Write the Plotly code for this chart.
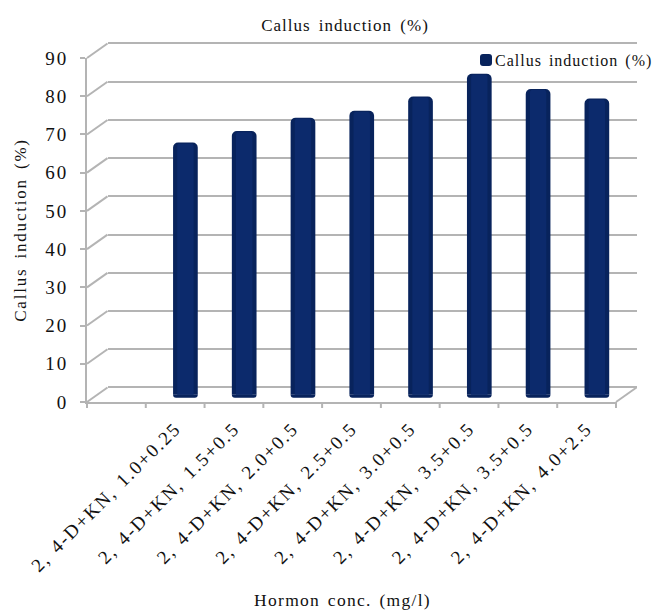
import plotly.graph_objects as go

labels = ["2, 4-D+KN, 1.0+0.25", "2, 4-D+KN, 1.5+0.5", "2, 4-D+KN, 2.0+0.5", "2, 4-D+KN, 2.5+0.5",
          "2, 4-D+KN, 3.0+0.5", "2, 4-D+KN, 3.5+0.5", "2, 4-D+KN, 3.5+0.5", "2, 4-D+KN, 4.0+2.5"]
values = [66, 69, 72.5, 74.3, 78, 84, 80, 77.5]
slots = [1.5, 2.5, 3.5, 4.5, 5.5, 6.5, 7.5, 8.5]
y_ticks = [0, 10, 20, 30, 40, 50, 60, 70, 80, 90]
x_edges = [0, 1, 2, 3, 4, 5, 6, 7, 8, 9]
series = "Callus induction (%)"

W, H = 655, 610
L, R, T, B = 87, 616, 58, 402      # front frame of the chart, px
DX, DY = 20.5, 14.5                # depth of the pseudo-3D box, px
UNIT = (B - T) / 90                # px per percent
PAD = 2                            # extra percent above and below 0-90 on the inner layers
GRID = "#b4b4b4"
TXT = "#111111"
FONT = "Liberation Serif"


def xd(a, b):
    return [a / W, b / W]


def yd(a, b):
    return [1 - b / H, 1 - a / H]


fig = go.Figure()

# back wall (gridlines), front frame (axes), bars: one subplot each, shifted in depth
fig.add_trace(go.Scatter(x=slots, y=values, mode="none", xaxis="x", yaxis="y", showlegend=False, hoverinfo="skip"))
fig.add_trace(go.Scatter(x=slots, y=values, mode="none", xaxis="x2", yaxis="y2", showlegend=False, hoverinfo="skip"))

fig.add_trace(go.Bar(x=slots, y=values, name=series, width=0.42, xaxis="x3", yaxis="y3",
                     marker=dict(color="#08235c", cornerradius=5, line_width=0), cliponaxis=False, showlegend=True))
fig.add_trace(go.Bar(x=slots, y=[-0.8] * 8, width=0.42, xaxis="x3", yaxis="y3",
                     marker=dict(color="#08235c", cornerradius=3, line_width=0), cliponaxis=False, showlegend=False,
                     hoverinfo="skip"))
fig.add_trace(go.Bar(x=slots, y=[v - 0.3 for v in values], width=0.28, xaxis="x3", yaxis="y3",
                     marker=dict(color="#0c2a6c", cornerradius=4, line_width=0), cliponaxis=False, showlegend=False,
                     hoverinfo="skip"))

axis_off = dict(showticklabels=False, ticks="", showline=False, zeroline=False, automargin=False)

fig.update_layout(
    width=W, height=H, autosize=False,
    margin=dict(l=0, r=0, t=0, b=0),
    paper_bgcolor="white", plot_bgcolor="rgba(0,0,0,0)",
    barmode="overlay",
    font=dict(family=FONT, color=TXT, size=15),
    title=dict(text=series, x=345 / W, xanchor="center", y=1 - 25 / H, yanchor="middle",
               font=dict(size=17, family=FONT, color=TXT)),
    legend=dict(x=466 / W, y=1 - 60 / H, xanchor="left", yanchor="middle", bgcolor="rgba(0,0,0,0)",
                font=dict(size=16, family=FONT, color=TXT), itemwidth=30, borderwidth=0,
                itemsizing="constant", entrywidth=180, entrywidthmode="pixels"),
    # back wall
    xaxis=dict(domain=xd(L + DX, R + DX), range=[0, 9], showgrid=False, **axis_off),
    yaxis=dict(domain=yd(T - DY - PAD * UNIT, B - DY + PAD * UNIT), range=[-PAD, 90 + PAD], tickvals=y_ticks,
               showgrid=True, gridcolor=GRID, gridwidth=2, **axis_off),
    # front frame with ticks and labels
    xaxis2=dict(domain=xd(L, R), range=[0, 9], anchor="y2", showgrid=False, zeroline=False, automargin=False,
                tickmode="array", tickvals=slots, ticktext=labels, tickangle=-45, ticks="", ticklabelstandoff=6,
                tickfont=dict(size=19, family=FONT, color=TXT), showline=True, linecolor=GRID, linewidth=2,
                title=dict(text="Hormon conc. (mg/l)", font=dict(size=17.5, family=FONT, color=TXT), standoff=56)),
    yaxis2=dict(domain=yd(T, B), range=[0, 90], anchor="x2", showgrid=False, zeroline=False, automargin=False,
                tickmode="array", tickvals=y_ticks, ticks="outside", ticklen=5, tickwidth=2, tickcolor=GRID,
                ticklabelstandoff=8,
                tickfont=dict(size=19, family=FONT, color=TXT), showline=True, linecolor=GRID, linewidth=2,
                title=dict(text="Callus induction (%)", font=dict(size=17, family=FONT, color=TXT), standoff=18)),
    # bars, half way into the depth
    xaxis3=dict(domain=xd(L + DX / 2, R + DX / 2), range=[0, 9], anchor="y3", showgrid=False, **axis_off),
    yaxis3=dict(domain=yd(T - DY / 2, B - DY / 2 + PAD * UNIT), range=[-PAD, 90], anchor="x3", showgrid=False,
                **axis_off),
)

# depth connectors and boundary ticks of the frame
shapes = []
for v in y_ticks:
    py = B - (B - T) * v / 90
    shapes.append(dict(type="line", xref="paper", yref="paper", x0=L / W, x1=(L + DX) / W,
                       y0=1 - py / H, y1=1 - (py - DY) / H, line=dict(color=GRID, width=2), layer="below"))
for e in x_edges:
    px = L + (R - L) * e / 9
    shapes.append(dict(type="line", xref="paper", yref="paper", x0=px / W, x1=px / W,
                       y0=1 - B / H, y1=1 - (B + 6) / H, line=dict(color=GRID, width=2), layer="below"))
shapes.append(dict(type="line", xref="paper", yref="paper", x0=R / W, x1=(R + DX) / W,
                   y0=1 - B / H, y1=1 - (B - DY) / H, line=dict(color=GRID, width=2), layer="below"))
fig.update_layout(shapes=shapes)

spacing = """
var s=document.createElement('style');
s.textContent='body{margin:0} .x2tick text{letter-spacing:1.8px;word-spacing:2px} .y2tick text{letter-spacing:2px} .gtitle{letter-spacing:1px;word-spacing:3px} .x2title{letter-spacing:1.3px;word-spacing:2px;transform:translateX(-9px)} .y2title{letter-spacing:1.8px;word-spacing:3px} .legendtext{letter-spacing:1px;word-spacing:2px;transform:translateX(-11px)} .legend .scrollbox{clip-path:none !important}';
document.head.appendChild(s);
"""
fig.write_html("out.html", post_script=spacing, config=dict(displayModeBar=False))
